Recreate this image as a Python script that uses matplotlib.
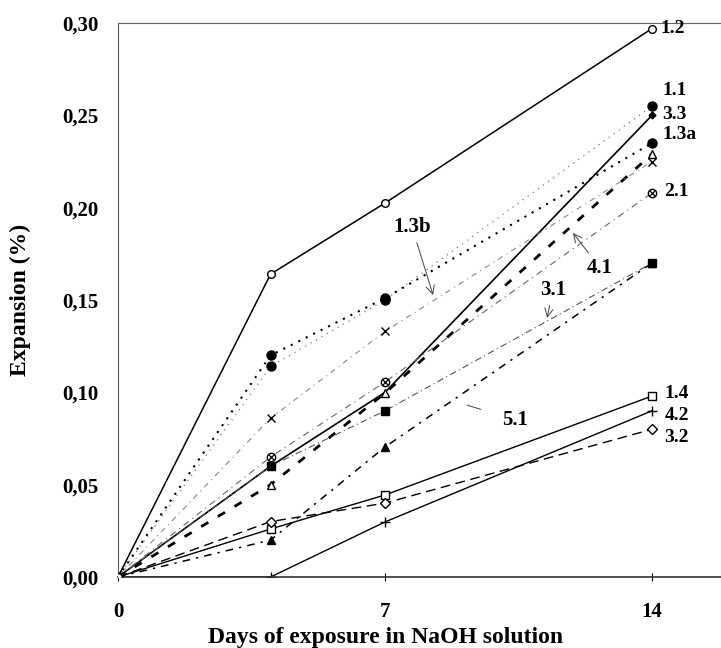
import numpy as np
import matplotlib.pyplot as plt
from matplotlib.ticker import FuncFormatter

plt.rcParams['font.family'] = ['Liberation Serif', 'DejaVu Serif']
plt.rcParams['font.weight'] = 'bold'

# days of exposure
days = [0, 4, 7, 14]

# expansion (%) for each mix
s_12 = [0, 0.164, 0.2025, 0.297]
s_11 = [0, 0.114, 0.150, 0.255]
s_13a = [0, 0.120, 0.151, 0.235]
s_33 = [0, 0.060, 0.100, 0.250]
s_41 = [0, 0.050, 0.0996, 0.229]
s_13b = [0, 0.086, 0.133, 0.225]
s_21 = [0, 0.065, 0.1056, 0.208]
s_31 = [0, 0.060, 0.090, 0.170]
s_51 = [0, 0.020, 0.0704, 0.170]
s_14 = [0, 0.026, 0.0444, 0.098]
s_42 = [0, 0.000, 0.0298, 0.090]
s_32 = [0, 0.030, 0.040, 0.080]

end_labels = ['1.2', '1.1', '3.3', '1.3a', '2.1', '1.4', '4.2', '3.2']

fig = plt.figure(figsize=(7.21, 6.48), dpi=100)
ax = fig.add_axes([118/721, 1-577/648, 603/721, 554/648])

k = 'black'
# 1.2
ax.plot(days, s_12, '-', color=k, lw=1.1, marker='o', ms=5.5, mfc='white', mec=k, zorder=5)
# 1.1 (faint sparse dots)
ax.plot(days, s_11, color='#777777', lw=0.9, ls=(0, (1, 4)), marker='o', ms=6.5, mfc=k, mec=k)
# 1.3a (dense dots)
ax.plot(days, s_13a, color=k, lw=1.5, ls=(0, (1, 3)), marker='o', ms=6.5, mfc=k, mec=k)
# 3.3
ax.plot(days, s_33, '-', color=k, lw=1.2, marker='D', ms=3.5, mfc=k, mec=k, markevery=[3])
# 4.1 thick dashes
ax.plot(days, s_41, color=k, lw=2.0, ls=(0, (3, 4)), marker='^', ms=6, mfc='white', mec=k)
# 1.3b
ax.plot(days, s_13b, color='#888888', lw=0.8, ls=(0, (5, 4, 1, 4)), marker='x', ms=6, mec=k, mew=1.0)
# 2.1 (circle with cross)
ax.plot(days, s_21, color='#666666', lw=0.8, ls=(0, (6, 4, 1, 4)), marker='o', ms=6, mfc='white', mec=k)
ax.plot(days[1:], s_21[1:], ls='none', marker='x', ms=4.5, mec=k, mew=0.9)
# 3.1
ax.plot(days, s_31, color='#555555', lw=0.8, ls=(0, (6, 3, 1, 3)), marker='s', ms=6, mfc=k, mec=k)
# 5.1
ax.plot(days, s_51, color=k, lw=1.1, ls=(0, (5, 4, 1.5, 4)), marker='^', ms=6, mfc=k, mec=k)
# 1.4
ax.plot(days, s_14, '-', color=k, lw=1.0, marker='s', ms=5.5, mfc='white', mec=k)
# 4.2
ax.plot(days, s_42, '-', color=k, lw=1.0, marker='+', ms=7, mec=k, mew=1.0, markevery=[1, 2, 3])
# 3.2
ax.plot(days, s_32, color=k, lw=1.0, ls=(0, (7, 4)), marker='D', ms=5, mfc='white', mec=k)

# labels at the end of lines
end_pos = [(14.22, 0.297), (14.27, 0.2635), (14.27, 0.2505), (14.27, 0.2395),
           (14.33, 0.2085), (14.33, 0.0996), (14.33, 0.0877), (14.33, 0.0758)]
for lab, (xx, yy) in zip(end_labels, end_pos):
    ax.text(xx, yy, lab, fontsize=14, fontweight='bold', ha='left', va='center')

# labels with leaders
arr = dict(arrowstyle='->', color='#444444', lw=0.7, shrinkA=2, shrinkB=0)
ax.annotate('1.3b', xy=(8.26, 0.1527), xytext=(7.71, 0.1895), fontsize=15,
            fontweight='bold', ha='center', va='center', arrowprops=arr)
ax.annotate('4.1', xy=(11.93, 0.1863), xytext=(12.64, 0.1673), fontsize=15,
            fontweight='bold', ha='center', va='center', arrowprops=arr)
ax.annotate('3.1', xy=(11.25, 0.1403), xytext=(11.40, 0.1554), fontsize=15,
            fontweight='bold', ha='center', va='center', arrowprops=arr)
ax.annotate('5.1', xy=(9.15, 0.0931), xytext=(10.41, 0.085), fontsize=15,
            fontweight='bold', ha='center', va='center',
            arrowprops=dict(arrowstyle='-', color='#444444', lw=0.7, shrinkA=14, shrinkB=0))

ax.set_xlim(0, 603/267*7)
ax.set_ylim(0, 0.30)
ax.set_xticks([0, 7, 14])
ax.set_yticks(np.arange(0, 0.301, 0.05))
ax.yaxis.set_major_formatter(FuncFormatter(lambda v, p: f'{v:.2f}'.replace('.', ',')))
ax.tick_params(axis='y', length=0, pad=14, labelsize=15)
ax.tick_params(axis='x', direction='inout', length=6, width=0.8, pad=15, labelsize=15)
for t in ax.get_xticklabels() + ax.get_yticklabels():
    t.set_fontweight('bold')

ax.spines['right'].set_visible(False)
ax.spines['top'].set_color('#666666')
ax.spines['left'].set_color('#555555')
ax.spines['bottom'].set_color('#333333')
ax.spines['bottom'].set_linewidth(1.2)

ax.set_ylabel('Expansion (%)', fontsize=17, fontweight='bold')
ax.yaxis.set_label_coords(-0.145, 0.5)
ax.set_xlabel('Days of exposure in NaOH solution', fontsize=17, fontweight='bold')
ax.xaxis.set_label_coords(0.443, -0.09)

plt.savefig('out.png', dpi=100)
